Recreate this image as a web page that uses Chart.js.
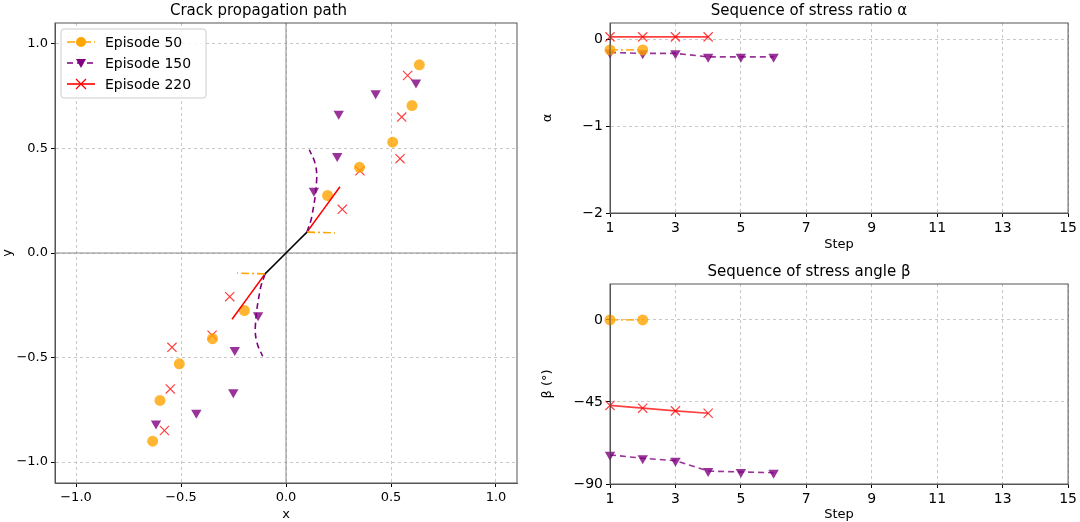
<!DOCTYPE html>
<html><head><meta charset="utf-8">
<script src="https://cdn.jsdelivr.net/npm/chart.js@4.4.1/dist/chart.umd.min.js"></script>
<style>
body{margin:0;background:#fff;width:1080px;height:522px;position:relative;overflow:hidden}
canvas{position:absolute}
</style></head><body>
<canvas id="path" style="left:0;top:0;width:540px;height:522px" width="540" height="522"></canvas>
<canvas id="alpha" style="left:540px;top:0;width:540px;height:252px" width="540" height="252"></canvas>
<canvas id="beta" style="left:540px;top:261px;width:540px;height:261px" width="540" height="261"></canvas>
<script>
// crack path points (x, y)
const ep50X = [0.635, 0.60, 0.508, 0.35, 0.198, -0.198, -0.35, -0.508, -0.60, -0.635];
const ep50Y = [0.90, 0.705, 0.53, 0.41, 0.275, -0.275, -0.41, -0.53, -0.705, -0.90];
const ep150X = [0.619, 0.427, 0.251, 0.244, 0.133, -0.133, -0.244, -0.251, -0.427, -0.619];
const ep150Y = [0.815, 0.764, 0.666, 0.464, 0.298, -0.298, -0.464, -0.666, -0.764, -0.815];
const ep220X = [0.579, 0.551, 0.543, 0.352, 0.268, -0.268, -0.352, -0.543, -0.551, -0.579];
const ep220Y = [0.849, 0.65, 0.451, 0.393, 0.209, -0.209, -0.393, -0.451, -0.65, -0.849];
// initial crack and first-step segments
const initX = [-0.1, 0, 0.1];
const initY = [-0.1, 0, 0.1];
const seg50X = [0.1, 0.233], seg50Y = [0.1, 0.096];
const seg220X = [0.1, 0.257], seg220Y = [0.1, 0.317];
const curve150X = [0.1, 0.123, 0.146, 0.138, 0.111];
const curve150Y = [0.1, 0.175, 0.35, 0.43, 0.494];
const pathTicks = [-1.0, -0.5, 0, 0.5, 1.0];

// step sequences
const steps = [1, 2, 3, 4, 5, 6];
const alpha50 = [-0.12, -0.12];
const alpha150 = [-0.15, -0.16, -0.16, -0.2, -0.2, -0.2];
const alpha220 = [0.03, 0.03, 0.03, 0.03];
const beta50 = [0, 0];
const beta150 = [-74.0, -75.9, -77.2, -82.9, -83.4, -83.8];
const beta220 = [-46.9, -48.4, -49.9, -51.2];
const stepTicks = [1, 3, 5, 7, 9, 11, 13, 15];
const alphaTicks = [-2, -1, 0];
const betaTicks = [-90, -45, 0];

const ORANGE = 'rgba(255,165,0,0.8)', PURPLE = 'rgba(128,0,128,0.8)', RED = 'rgba(255,0,0,0.75)';
const FONT = 'DejaVu Sans';
Chart.defaults.font.family = FONT;
Chart.defaults.font.size = 13;
Chart.defaults.color = '#000';
Chart.defaults.animation = false;

const pts = (xs, ys) => xs.map((x, i) => ({x, y: ys[i]}));
const mirror = arr => arr.map(p => ({x: -p.x, y: -p.y}));
const fmt = v => (v < 0 ? '\u2212' : '') + Math.abs(v);
const fmt1 = v => (v < 0 ? '\u2212' : '') + Math.abs(v).toFixed(1);

function axis(min, max, ticks, title, width, fmtFn, isX, tickSize) {
  return {
    type: 'linear', min, max,
    afterBuildTicks: s => { s.ticks = ticks.map(v => ({value: v})); },
    afterFit: s => { if (isX) s.height = width; else s.width = width; },
    ticks: {callback: fmtFn, maxRotation: 0, autoSkip: false, padding: 3, font: {size: tickSize}},
    grid: {color: '#c8c8c8', tickColor: '#000', tickLength: 4, drawTicks: true},
    border: {display: true, color: '#555', dash: [3, 3]},
    title: {display: true, text: title, padding: {top: 0, bottom: 0}}
  };
}
// zero lines and box frame
const frame = {
  id: 'frame',
  beforeDatasetsDraw(c, a, opts) {
    const {ctx, chartArea: ca} = c;
    ctx.save();
    if (opts.zero) {
      ctx.strokeStyle = '#888'; ctx.lineWidth = 1;
      const x0 = c.scales.x.getPixelForValue(0), y0 = c.scales.y.getPixelForValue(0);
      ctx.beginPath(); ctx.moveTo(x0, ca.top); ctx.lineTo(x0, ca.bottom);
      ctx.moveTo(ca.left, y0); ctx.lineTo(ca.right, y0); ctx.stroke();
    }
    ctx.restore();
  },
  afterDraw(c) {
    const {ctx, chartArea: ca} = c;
    ctx.save(); ctx.strokeStyle = '#555'; ctx.lineWidth = 1;
    ctx.strokeRect(ca.left, ca.top, ca.width, ca.height); ctx.restore();
  }
};

function titleOpts(text) {
  return {display: true, text, font: {size: 15, weight: 'normal'}, padding: {top: 2, bottom: 3}};
}

function marker(ds, color, style, rot, r) {
  return Object.assign(ds, {borderColor: color, backgroundColor: color, pointStyle: style,
    pointRotation: rot, pointRadius: r, pointBorderWidth: style === 'cross' ? 1.2 : 0});
}

// legend in upper left of crack path plot
const pathLegend = {
  id: 'pathLegend',
  afterDraw(c) {
    const {ctx, chartArea: ca} = c;
    const x = ca.left + 6, y = ca.top + 6, w = 145, h = 69;
    ctx.save();
    ctx.fillStyle = 'rgba(255,255,255,0.85)'; ctx.strokeStyle = '#ccc';
    ctx.beginPath(); ctx.roundRect(x, y, w, h, 3); ctx.fill(); ctx.stroke();
    const rows = [
      ['Episode 50', 'rgb(255,165,0)', [8, 3, 2, 3], 'circle'],
      ['Episode 150', 'rgb(128,0,128)', [6, 4], 'tri'],
      ['Episode 220', 'rgb(255,0,0)', [], 'cross']
    ];
    rows.forEach((r, i) => {
      const cy = y + 13 + i * 21, lx = x + 6;
      ctx.strokeStyle = r[1]; ctx.fillStyle = r[1]; ctx.lineWidth = 1.6;
      ctx.setLineDash(r[2]); ctx.beginPath(); ctx.moveTo(lx, cy); ctx.lineTo(lx + 28, cy); ctx.stroke();
      ctx.setLineDash([]);
      const mx = lx + 14;
      ctx.beginPath();
      if (r[3] === 'circle') { ctx.arc(mx, cy, 5, 0, Math.PI * 2); ctx.fill(); }
      else if (r[3] === 'tri') { ctx.moveTo(mx - 5, cy - 4); ctx.lineTo(mx + 5, cy - 4); ctx.lineTo(mx, cy + 5); ctx.fill(); }
      else { ctx.lineWidth = 1.2; ctx.moveTo(mx - 5, cy - 5); ctx.lineTo(mx + 5, cy + 5); ctx.moveTo(mx + 5, cy - 5); ctx.lineTo(mx - 5, cy + 5); ctx.stroke(); }
      ctx.fillStyle = '#000'; ctx.font = '14px ' + FONT; ctx.textBaseline = 'middle';
      ctx.fillText(r[0], lx + 38, cy + 1);
    });
    ctx.restore();
  }
};

const c50 = pts(seg50X, seg50Y), c220 = pts(seg220X, seg220Y), c150 = pts(curve150X, curve150Y);
const lineDs = (data, color, dash) => ({type: 'line', data, borderColor: color, borderWidth: 1.6,
  borderDash: dash, pointRadius: 0, showLine: true, fill: false, tension: 0.4});

new Chart(document.getElementById('path'), {
  type: 'scatter',
  data: {datasets: [
    lineDs(pts(initX, initY), '#000', []),
    lineDs(c50, 'rgb(255,165,0)', [8, 3, 2, 3]), lineDs(mirror(c50), 'rgb(255,165,0)', [8, 3, 2, 3]),
    lineDs(c150, 'rgb(128,0,128)', [6, 4]), lineDs(mirror(c150), 'rgb(128,0,128)', [6, 4]),
    lineDs(c220, 'rgb(255,0,0)', []), lineDs(mirror(c220), 'rgb(255,0,0)', []),
    marker({data: pts(ep50X, ep50Y)}, ORANGE, 'circle', 0, 5.5),
    marker({data: pts(ep150X, ep150Y)}, PURPLE, 'triangle', 180, 6),
    marker({data: pts(ep220X, ep220Y)}, RED, 'cross', 45, 6.5)
  ]},
  options: {
    responsive: false,
    layout: {padding: {right: 23, top: 0}},
    plugins: {legend: {display: false}, tooltip: {enabled: false}, title: titleOpts('Crack propagation path'),
      frame: {zero: true}},
    scales: {
      x: axis(-1.1, 1.1, pathTicks, 'x', 39, fmt1, true, 13),
      y: axis(-1.1, 1.1, pathTicks, 'y', 55, fmt1, false, 13)
    }
  },
  plugins: [frame, pathLegend]
});

function seqChart(id, title, yTitle, ys, yMin, yMax, yTicks, axisH) {
  const mk = (vals, color, dash, style, rot, r) => marker({type: 'line', data: vals.map((v, i) => ({x: steps[i], y: v})),
    borderWidth: 1.6, borderDash: dash, showLine: true, fill: false, clip: false}, color, style, rot, r);
  new Chart(document.getElementById(id), {
    type: 'scatter',
    data: {datasets: [
      mk(ys[0], ORANGE, [8, 3, 2, 3], 'circle', 0, 5.5),
      mk(ys[1], PURPLE, [6, 4], 'triangle', 180, 6),
      mk(ys[2], RED, [], 'cross', 45, 6.5)
    ]},
    options: {
      responsive: false,
      layout: {padding: {right: 2}},
      plugins: {legend: {display: false}, tooltip: {enabled: false}, title: titleOpts(title), frame: {zero: false}},
      scales: {
        x: axis(1, 15, stepTicks, 'Step', axisH, fmt, true, 14),
        y: axis(yMin, yMax, yTicks, yTitle, 70, fmt, false, 14)
      }
    },
    plugins: [frame]
  });
}
seqChart('alpha', 'Sequence of stress ratio \u03b1', '\u03b1', [alpha50, alpha150, alpha220], -2, 0.19, alphaTicks, 39);
seqChart('beta', 'Sequence of stress angle \u03b2', '\u03b2 (\u00b0)', [beta50, beta150, beta220], -90, 19.7, betaTicks, 38);
</script>
</body></html>
